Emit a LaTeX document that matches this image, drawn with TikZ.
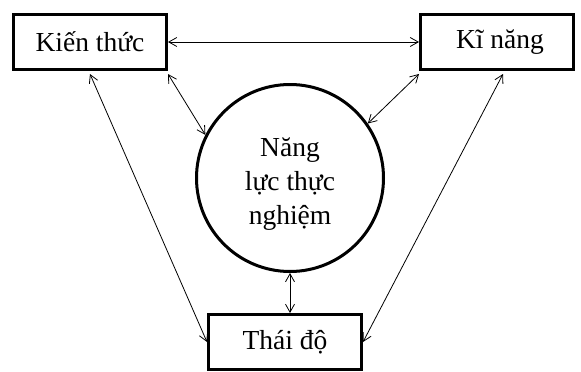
\documentclass[tikz,border=0pt]{standalone}
\usepackage{fontspec}
\setmainfont{Liberation Serif}
\usetikzlibrary{arrows.meta}
\begin{document}
\begin{tikzpicture}[x=1pt,y=1pt,
  box/.style={draw, line width=3pt, minimum width=153pt, minimum height=55pt, inner sep=0pt,
    font=\fontsize{27.5}{34}\selectfont},
  core/.style={draw, circle, line width=3pt, minimum size=187pt, inner sep=0pt},
  corelabel/.style={align=center, inner sep=0pt, font=\fontsize{27.5}{34}\selectfont},
  link/.style={line width=0.8pt, {Straight Barb[length=8pt,width=9pt]}-{Straight Barb[length=8pt,width=9pt]}}]
  \useasboundingbox (0,0) rectangle (581,-372);
  % the three boxes and the central circle
  \node[box] (kt) at (90,-42) {Kiến thức};
  \node[box] (kn) at (497,-42) {\hspace*{6pt}Kĩ năng};
  \node[box] (td) at (285,-342) {Thái độ};
  \node[core] (c) at (290,-178) {};
  \node[corelabel] (ct) at (290,-184) {Năng\\lực thực\\nghiệm};
  % two-way connectors
  \draw[link] (kt.east) -- (kn.west);
  \draw[link] ([yshift=-3pt]kt.south east) -- (c.153);
  \draw[link] ([yshift=-3pt]kn.south west) -- (c.35);
  \draw[link] ([yshift=-3pt]kt.south) -- (td.west);
  \draw[link] ([xshift=6pt,yshift=-3pt]kn.south) -- (td.east);
  \draw[link] (c.south) -- (c.south |- td.north);
\end{tikzpicture}
\end{document}
